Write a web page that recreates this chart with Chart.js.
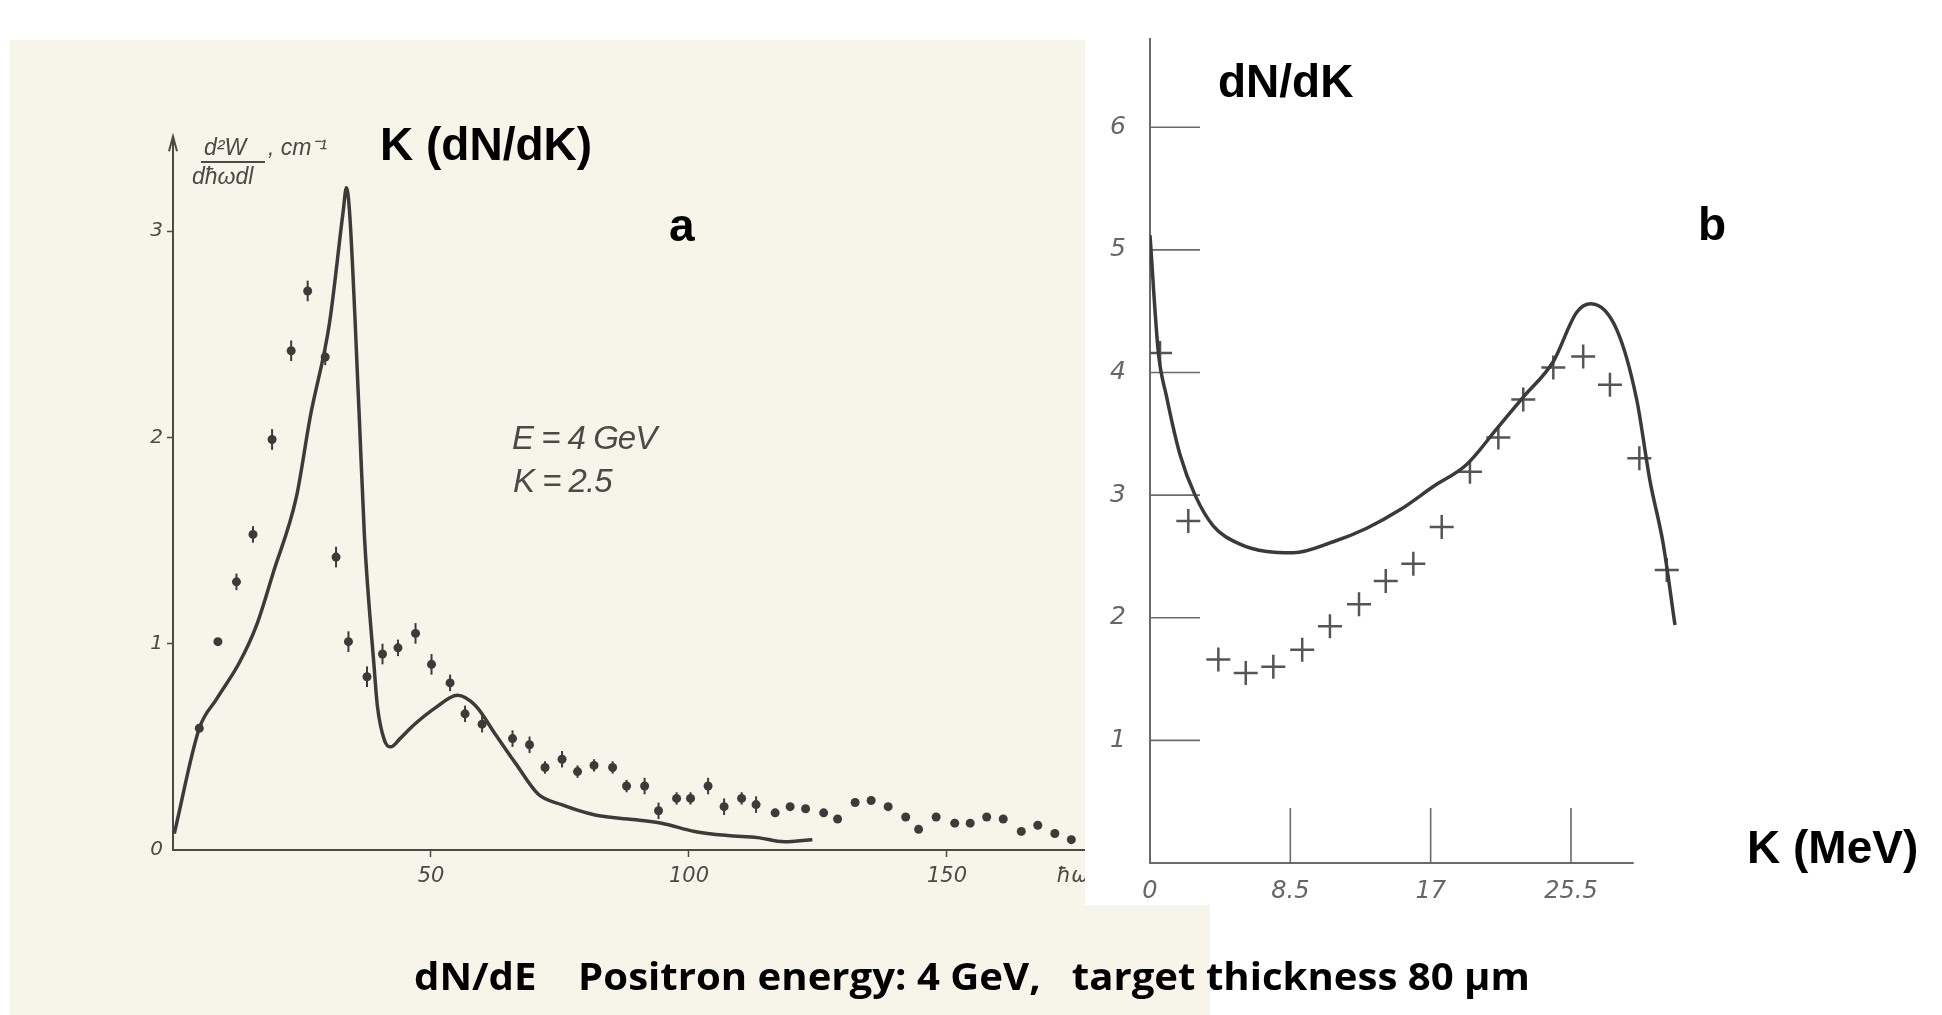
<!DOCTYPE html>
<html>
<head>
<meta charset="utf-8">
<script src="https://cdn.jsdelivr.net/npm/chart.js@4/dist/chart.umd.min.js"></script>
<style>
  html, body { margin:0; padding:0; background:#ffffff; }
  body { width:1942px; height:1015px; position:relative; overflow:hidden; }
  #paper { position:absolute; left:10px; top:40px; width:1200px; height:975px; background:#f7f5ea; }
  #whiteB { position:absolute; left:1085px; top:0; width:857px; height:905px; background:#ffffff; }
  canvas { position:absolute; }
  #cA { left:0; top:0; }
  #cB { left:1085px; top:0; }
  .big { position:absolute; font-family:"Liberation Sans", Arial, sans-serif; font-weight:bold; font-size:46px; line-height:46px; color:#000; white-space:pre; }
  .hand { position:absolute; font-family:"Liberation Sans", Arial, sans-serif; font-style:italic; color:#4a4a46; white-space:pre; }
  #caption { position:absolute; left:414px; top:956px; font-family:"Open Sans", sans-serif; font-weight:bold; font-size:38px; line-height:38px; color:#000; white-space:pre; transform-origin:0 0; }
</style>
</head>
<body>
<div id="paper"></div>
<canvas id="cA" width="1110" height="1015"></canvas>
<div id="whiteB"></div>
<canvas id="cB" width="857" height="1015"></canvas>

<div class="big" style="left:380px; top:121px;">K (dN/dK)</div>
<div class="big" style="left:669px; top:202px;">a</div>
<div class="big" style="left:1218px; top:58px;">dN/dK</div>
<div class="big" style="left:1698px; top:201px;">b</div>
<div class="big" style="left:1747px; top:824px;">K (MeV)</div>

<div class="hand" style="left:512px; top:421px; font-size:33px; line-height:33px; letter-spacing:-1px;">E = 4 GeV</div>
<div class="hand" style="left:513px; top:464px; font-size:33px; line-height:33px; letter-spacing:-1px;">K = 2.5</div>

<div class="hand" style="left:204px; top:136px; font-size:23px; line-height:23px;">d²W</div>
<div style="position:absolute; left:201px; top:161px; width:64px; height:2px; background:#4a4a46;"></div>
<div class="hand" style="left:192px; top:165px; font-size:23px; line-height:23px;">dħωdl</div>
<div class="hand" style="left:268px; top:136px; font-size:23px; line-height:23px;">, cm⁻¹</div>

<div id="caption">dN/dE    Positron energy: 4 GeV,   target thickness 80 µm</div>

<script>
// ---------- Panel a data ----------
const aCurveX = [0.25, 5.1, 8.4, 12.9, 16.2, 19.5, 23.9, 26.6, 30.3, 33.0, 33.6, 34.2, 36.1, 37.1, 39.0, 39.6, 41.0, 42.2, 44.0, 46.4, 50.9, 55.1, 58.6, 62.5, 66.4, 70.8, 75.3, 81.8, 88.2, 94.7, 101.1, 107.5, 113.3, 118.5, 123.9];
const aCurveY = [0.08, 0.59, 0.73, 0.91, 1.09, 1.35, 1.71, 2.10, 2.55, 3.10, 3.21, 3.10, 2.10, 1.52, 0.88, 0.70, 0.53, 0.50, 0.54, 0.60, 0.69, 0.75, 0.70, 0.56, 0.42, 0.27, 0.22, 0.17, 0.15, 0.13, 0.09, 0.07, 0.06, 0.04, 0.05];
const aDotsX = [5.1, 8.7, 12.3, 15.5, 19.2, 22.9, 26.1, 29.5, 31.6, 34.0, 37.6, 40.6, 43.6, 47.0, 50.1, 53.7, 56.6, 59.9, 65.8, 69.1, 72.1, 75.4, 78.4, 81.6, 85.2, 87.9, 91.4, 94.1, 97.6, 100.3, 103.7, 106.8, 110.2, 113.0, 116.7, 119.6, 122.6, 126.1, 128.8, 132.2, 135.3, 138.6, 142.0, 144.5, 147.9, 151.5, 154.5, 157.7, 160.9, 164.4, 167.6, 170.9, 174.1];
const aDotsY = [0.59, 1.01, 1.30, 1.53, 1.99, 2.42, 2.71, 2.39, 1.42, 1.01, 0.84, 0.95, 0.98, 1.05, 0.90, 0.81, 0.66, 0.61, 0.54, 0.51, 0.40, 0.44, 0.38, 0.41, 0.40, 0.31, 0.31, 0.19, 0.25, 0.25, 0.31, 0.21, 0.25, 0.22, 0.18, 0.21, 0.20, 0.18, 0.15, 0.23, 0.24, 0.21, 0.16, 0.10, 0.16, 0.13, 0.13, 0.16, 0.15, 0.09, 0.12, 0.08, 0.05];
const aDotsErr = [0, 0, 0.04, 0.04, 0.05, 0.05, 0.05, 0.04, 0.05, 0.05, 0.05, 0.05, 0.04, 0.05, 0.05, 0.04, 0.04, 0.04, 0.04, 0.04, 0.03, 0.04, 0.03, 0.03, 0.03, 0.03, 0.04, 0.04, 0.03, 0.03, 0.04, 0.04, 0.03, 0.04, 0, 0, 0, 0, 0, 0, 0, 0, 0, 0, 0, 0, 0, 0, 0, 0, 0, 0, 0];
const aXTicks = [50, 100, 150];
const aYTicks = [0, 1, 2, 3];
const aXName = 'ħω,';
const aXNamePos = 175;

// ---------- Panel b data ----------
const bCurveX = [0, 0.5, 1.01, 1.82, 2.73, 3.83, 5.45, 7.07, 8.68, 11.1, 13.13, 15.14, 17.16, 19.18, 21.0, 22.61, 24.43, 25.84, 26.71, 28.27, 29.48, 30.28, 31.09, 31.8];
const bCurveY = [5.12, 4.17, 3.80, 3.33, 3.00, 2.75, 2.60, 2.54, 2.53, 2.62, 2.73, 2.88, 3.07, 3.25, 3.54, 3.80, 4.09, 4.49, 4.56, 4.35, 3.78, 3.12, 2.60, 1.94];
const bCrossX = [0.61, 2.32, 4.14, 5.80, 7.47, 9.22, 10.90, 12.66, 14.28, 15.95, 17.67, 19.38, 21.10, 22.61, 24.43, 26.24, 27.86, 29.64, 31.30];
const bCrossY = [4.16, 2.79, 1.66, 1.55, 1.60, 1.74, 1.93, 2.11, 2.30, 2.44, 2.74, 3.19, 3.47, 3.78, 4.04, 4.13, 3.90, 3.30, 2.39];
const bXTicks = [0, 8.5, 17, 25.5];
const bYTicks = [1, 2, 3, 4, 5, 6];
const bXAxisEnd = 29.3;

const zip = (xs, ys) => xs.map((x, i) => ({ x: x, y: ys[i] }));

// ---------- Chart a ----------
const inkA = '#3b3b39';
const errorBarsA = {
  id: 'errorBarsA',
  afterDatasetsDraw(chart) {
    const ctx = chart.ctx, ys = chart.scales.y, xs = chart.scales.x;
    ctx.save();
    ctx.strokeStyle = inkA; ctx.lineWidth = 2;
    aDotsX.forEach((x, i) => {
      const e = aDotsErr[i];
      if (!e) return;
      const px = xs.getPixelForValue(x);
      ctx.beginPath();
      ctx.moveTo(px, ys.getPixelForValue(aDotsY[i] + e));
      ctx.lineTo(px, ys.getPixelForValue(aDotsY[i] - e));
      ctx.stroke();
    });
    const l = chart.chartArea.left, t = chart.chartArea.top;
    ctx.strokeStyle = '#4a4a46'; ctx.lineWidth = 2;
    ctx.beginPath();
    ctx.moveTo(l - 4, t + 13); ctx.lineTo(l, t - 2); ctx.lineTo(l + 4, t + 13);
    ctx.stroke();
    ctx.restore();
  }
};

new Chart(document.getElementById('cA'), {
  type: 'scatter',
  data: {
    datasets: [
      { data: zip(aCurveX, aCurveY), showLine: true, borderColor: inkA, borderWidth: 3.5, pointRadius: 0, cubicInterpolationMode: 'monotone', fill: false },
      { data: zip(aDotsX, aDotsY), showLine: false, pointRadius: 4.5, pointBackgroundColor: inkA, pointBorderWidth: 0 }
    ]
  },
  options: {
    responsive: false, animation: false, devicePixelRatio: 1,
    layout: { padding: { top: 138.3, right: 23.7, left: 0, bottom: 0 } },
    plugins: { legend: { display: false }, tooltip: { enabled: false } },
    scales: {
      x: {
        type: 'linear', min: 0, max: 177,
        afterBuildTicks: s => { s.ticks = aXTicks.concat([aXNamePos]).map(v => ({ value: v })); },
        afterFit: s => { s.height = 165; },
        ticks: { autoSkip: false, maxRotation: 0, padding: 7, color: '#4a4a46',
          font: { family: 'DejaVu Sans', style: 'italic', size: 21 },
          callback: v => v === aXNamePos ? aXName : String(v) },
        grid: { drawOnChartArea: false, drawTicks: true, tickLength: 7, tickWidth: 1.5,
          tickColor: c => (c.tick && c.tick.value === aXNamePos) ? 'rgba(0,0,0,0)' : '#4a4a46' },
        border: { display: true, color: '#4a4a46', width: 2 }
      },
      y: {
        type: 'linear', min: 0, max: 3.45,
        afterBuildTicks: s => { s.ticks = aYTicks.map(v => ({ value: v })); },
        afterFit: s => { s.width = 173; },
        ticks: { autoSkip: false, padding: 4, color: '#4a4a46',
          font: { family: 'DejaVu Sans', style: 'italic', size: 20 },
          callback: v => String(v) },
        grid: { drawOnChartArea: false, drawTicks: true, tickLength: 6, tickWidth: 1.5,
          tickColor: c => (c.tick && c.tick.value === 0) ? 'rgba(0,0,0,0)' : '#4a4a46' },
        border: { display: true, color: '#4a4a46', width: 2 }
      }
    }
  },
  plugins: [errorBarsA]
});

// ---------- Chart b ----------
const inkB = '#3a3a3a';
const innerTicksB = {
  id: 'innerTicksB',
  beforeDatasetsDraw(chart) {
    const ctx = chart.ctx, xs = chart.scales.x, ys = chart.scales.y, a = chart.chartArea;
    ctx.save();
    ctx.strokeStyle = '#6a6a6a'; ctx.lineWidth = 2;
    ctx.beginPath();
    ctx.moveTo(xs.getPixelForValue(0), a.bottom);
    ctx.lineTo(xs.getPixelForValue(bXAxisEnd), a.bottom);
    ctx.stroke();
    ctx.lineWidth = 1.6;
    bYTicks.forEach(v => {
      const py = ys.getPixelForValue(v);
      ctx.beginPath(); ctx.moveTo(a.left, py); ctx.lineTo(a.left + 50, py); ctx.stroke();
    });
    bXTicks.forEach(v => {
      if (v === 0) return;
      const px = xs.getPixelForValue(v);
      ctx.beginPath(); ctx.moveTo(px, a.bottom); ctx.lineTo(px, a.bottom - 55); ctx.stroke();
    });
    ctx.restore();
  }
};

new Chart(document.getElementById('cB'), {
  type: 'scatter',
  data: {
    datasets: [
      { data: zip(bCurveX, bCurveY), showLine: true, borderColor: inkB, borderWidth: 3.5, pointRadius: 0, cubicInterpolationMode: 'monotone', fill: false },
      { data: zip(bCrossX, bCrossY), showLine: false, pointStyle: 'cross', pointRadius: 12, pointBorderColor: '#555555', pointBorderWidth: 2.5 }
    ]
  },
  options: {
    responsive: false, animation: false, devicePixelRatio: 1,
    layout: { padding: { top: 9.6, right: 247.2, left: 0, bottom: 0 } },
    plugins: { legend: { display: false }, tooltip: { enabled: false } },
    scales: {
      x: {
        type: 'linear', min: 0, max: 33,
        afterBuildTicks: s => { s.ticks = bXTicks.map(v => ({ value: v })); },
        afterFit: s => { s.height = 152; },
        ticks: { autoSkip: false, maxRotation: 0, padding: 14, color: '#666666',
          font: { family: 'DejaVu Sans', style: 'italic', size: 24 },
          callback: v => String(v) },
        grid: { drawOnChartArea: false, drawTicks: false },
        border: { display: false }
      },
      y: {
        type: 'linear', min: 0, max: 6.72,
        afterBuildTicks: s => { s.ticks = bYTicks.map(v => ({ value: v })); },
        afterFit: s => { s.width = 65; },
        ticks: { autoSkip: false, padding: 24, color: '#666666',
          font: { family: 'DejaVu Sans', style: 'italic', size: 25 },
          callback: v => String(v) },
        grid: { drawOnChartArea: false, drawTicks: false },
        border: { display: true, color: '#6a6a6a', width: 2 }
      }
    }
  },
  plugins: [innerTicksB]
});

function fitCaption() {
  const el = document.getElementById('caption');
  el.style.transform = 'none';
  const w = el.getBoundingClientRect().width;
  if (w > 0) el.style.transform = 'scaleX(' + (1116 / w) + ')';
}
fitCaption();
if (document.fonts && document.fonts.ready) document.fonts.ready.then(fitCaption);
</script>
</body>
</html>
